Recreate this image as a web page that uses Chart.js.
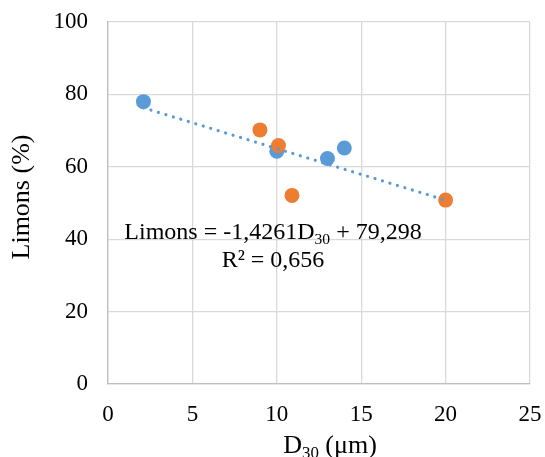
<!DOCTYPE html>
<html><head><meta charset="utf-8">
<script src="https://cdn.jsdelivr.net/npm/chart.js@4/dist/chart.umd.min.js"></script>
<style>html,body{margin:0;padding:0;background:#fff}#wrap{width:545px;height:457px;position:relative}</style>
</head><body><div id="wrap"><canvas id="c" width="545" height="457"></canvas></div>
<script>
const seriesBlueX = [2.1, 10.0, 13.0, 14.0];
const seriesBlueY = [78.0, 64.3, 62.3, 65.2];
const seriesOrangeX = [9.0, 10.1, 10.9, 20.0];
const seriesOrangeY = [70.2, 65.9, 52.1, 50.8];
const trendSlope = -1.4261;
const trendIntercept = 79.298;
const trendRange = [2.1, 20.0];
const xTicks = [0, 5, 10, 15, 20, 25];
const yTicks = [0, 20, 40, 60, 80, 100];

const FONT = '"Liberation Serif", "Times New Roman", serif';
const toPts = (xs, ys) => xs.map((x, i) => ({x, y: ys[i]}));
const trendPts = trendRange.map(x => ({x, y: trendSlope * x + trendIntercept}));

const textPlugin = {
  id: 'texts',
  afterDraw(chart) {
    const ctx = chart.ctx;
    ctx.save();
    ctx.fillStyle = '#000';
    ctx.textBaseline = 'middle';
    function drawSub(parts, cx, cy, size) {
      let total = 0;
      parts.forEach(p => {
        ctx.font = (p.sub ? size * 0.65 : size) + 'px ' + FONT;
        p.w = ctx.measureText(p.t).width;
        total += p.w;
      });
      let x = cx - total / 2;
      parts.forEach(p => {
        ctx.font = (p.sub ? size * 0.65 : size) + 'px ' + FONT;
        ctx.textAlign = 'left';
        ctx.fillText(p.t, x, cy + (p.sub ? size * 0.3 : 0));
        x += p.w;
      });
    }
    const eqSize = 24;
    drawSub([{t: 'Limons = -1,4261D'}, {t: '30', sub: true}, {t: ' + 79,298'}], 273, 233, eqSize);
    ctx.font = eqSize + 'px ' + FONT;
    ctx.textAlign = 'center';
    ctx.fillText('R² = 0,656', 273, 261);
    drawSub([{t: 'D'}, {t: '30', sub: true}, {t: ' (μm)'}], 330, 446, 26);
    ctx.translate(22, 197);
    ctx.rotate(-Math.PI / 2);
    ctx.font = '26px ' + FONT;
    ctx.textAlign = 'center';
    ctx.fillText('Limons (%)', 0, 0);
    ctx.restore();
  }
};

new Chart(document.getElementById('c'), {
  type: 'scatter',
  data: {
    datasets: [
      {
        type: 'line', label: 'trend', data: trendPts, order: 0,
        borderColor: '#5B9BD5', borderWidth: 3.2, borderDash: [0.01, 7.8],
        borderCapStyle: 'round', pointRadius: 0, fill: false, tension: 0
      },
      {
        label: 'orange', data: toPts(seriesOrangeX, seriesOrangeY), order: 1,
        backgroundColor: '#ED7D31', borderColor: '#ED7D31', pointRadius: 7.5, borderWidth: 0
      },
      {
        label: 'blue', data: toPts(seriesBlueX, seriesBlueY), order: 2,
        backgroundColor: '#5B9BD5', borderColor: '#5B9BD5', pointRadius: 7.5, borderWidth: 0
      }
    ]
  },
  options: {
    responsive: false, animation: false,
    layout: {padding: {top: 22, right: 15, left: 0, bottom: 0}},
    plugins: {legend: {display: false}, tooltip: {enabled: false}},
    scales: {
      x: {
        type: 'linear', min: 0, max: 25,
        afterBuildTicks(s) { s.ticks = xTicks.map(v => ({value: v})); },
        afterFit(s) { s.height = 73; s.paddingLeft = 0; s.paddingRight = 0; },
        grid: {color: '#d9d9d9', lineWidth: 1.3, drawTicks: false},
        border: {color: '#bfbfbf', width: 1.3},
        ticks: {color: '#000', font: {family: FONT, size: 23}, padding: 17, maxRotation: 0}
      },
      y: {
        type: 'linear', min: 0, max: 100,
        afterBuildTicks(s) { s.ticks = yTicks.map(v => ({value: v})); },
        afterFit(s) { s.width = 108; s.paddingTop = 0; s.paddingBottom = 0; },
        grid: {color: '#d9d9d9', lineWidth: 1.3, drawTicks: false},
        border: {color: '#bfbfbf', width: 1.3},
        ticks: {color: '#000', font: {family: FONT, size: 23}, padding: 20}
      }
    }
  },
  plugins: [textPlugin]
});
</script></body></html>
